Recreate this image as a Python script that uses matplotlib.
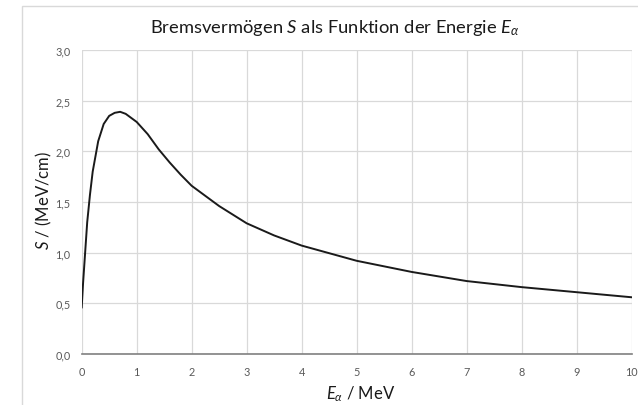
import matplotlib.pyplot as plt
from matplotlib.patches import Rectangle
from matplotlib.ticker import FuncFormatter, MultipleLocator

# stopping power S of alpha particles vs energy
energy = [0.0, 0.025, 0.05, 0.1, 0.15, 0.2, 0.3, 0.4, 0.5, 0.6, 0.7, 0.8, 0.9,
          1.0, 1.2, 1.4, 1.6, 1.8, 2.0, 2.5, 3.0, 3.5, 4.0, 5.0, 6.0, 7.0,
          8.0, 9.0, 10.0]
stopping = [0.46, 0.70, 0.90, 1.30, 1.57, 1.80, 2.10, 2.27, 2.35, 2.38, 2.39,
            2.37, 2.33, 2.29, 2.17, 2.02, 1.89, 1.77, 1.66, 1.46, 1.29, 1.17,
            1.07, 0.92, 0.81, 0.72, 0.66, 0.61, 0.56]

plt.rcParams['font.family'] = ['Lato', 'DejaVu Sans']
plt.rcParams['mathtext.fontset'] = 'custom'
plt.rcParams['mathtext.rm'] = 'Lato'
plt.rcParams['mathtext.it'] = 'Lato:italic'

W, H = 638, 406
fig = plt.figure(figsize=(W / 100, H / 100), dpi=100)

# chart frame (Excel-like), partially cut by the image border
fig.patches.append(Rectangle((22 / W, -0.05), 1.0, 1 - 7 / H + 0.05,
                             transform=fig.transFigure, fill=False,
                             edgecolor='#d9d9d9', lw=1.0))

ax = fig.add_axes([81.7 / W, 1 - 355 / H, (631.5 - 81.7) / W, (355 - 51) / H])
ax.plot(energy, stopping, color='#1a1a1a', lw=1.4)

ax.set_xlim(0, 10)
ax.set_ylim(0, 3)
ax.xaxis.set_major_locator(MultipleLocator(1))
ax.yaxis.set_major_locator(MultipleLocator(0.5))
ax.yaxis.set_major_formatter(FuncFormatter(lambda v, p: f'{v:.1f}'.replace('.', ',')))
ax.grid(True, color='#d9d9d9', lw=0.9)
ax.set_axisbelow(True)
for s in ['top', 'right', 'left']:
    ax.spines[s].set_visible(False)
ax.spines['bottom'].set_color('#808080')
ax.spines['bottom'].set_linewidth(1.2)
ax.tick_params(length=0, labelsize=7.8, colors='#595959', pad=8)
ax.tick_params(axis='x', pad=9)

fig.text(335 / W, 1 - 33 / H, 'Bremsvermögen $S$ als Funktion der Energie $E_\\alpha$',
         ha='center', va='baseline', fontsize=13.2, color='#1a1a1a')
fig.text(361 / W, 1 - 394 / H, '$E_\\alpha$ / MeV', ha='center', va='center',
         fontsize=12, color='#1a1a1a')
fig.text(44 / W, 1 - 200 / H, '$S$ / (MeV/cm)', ha='center', va='center',
         rotation=90, fontsize=12, color='#1a1a1a')

fig.savefig('out.png', dpi=100)
